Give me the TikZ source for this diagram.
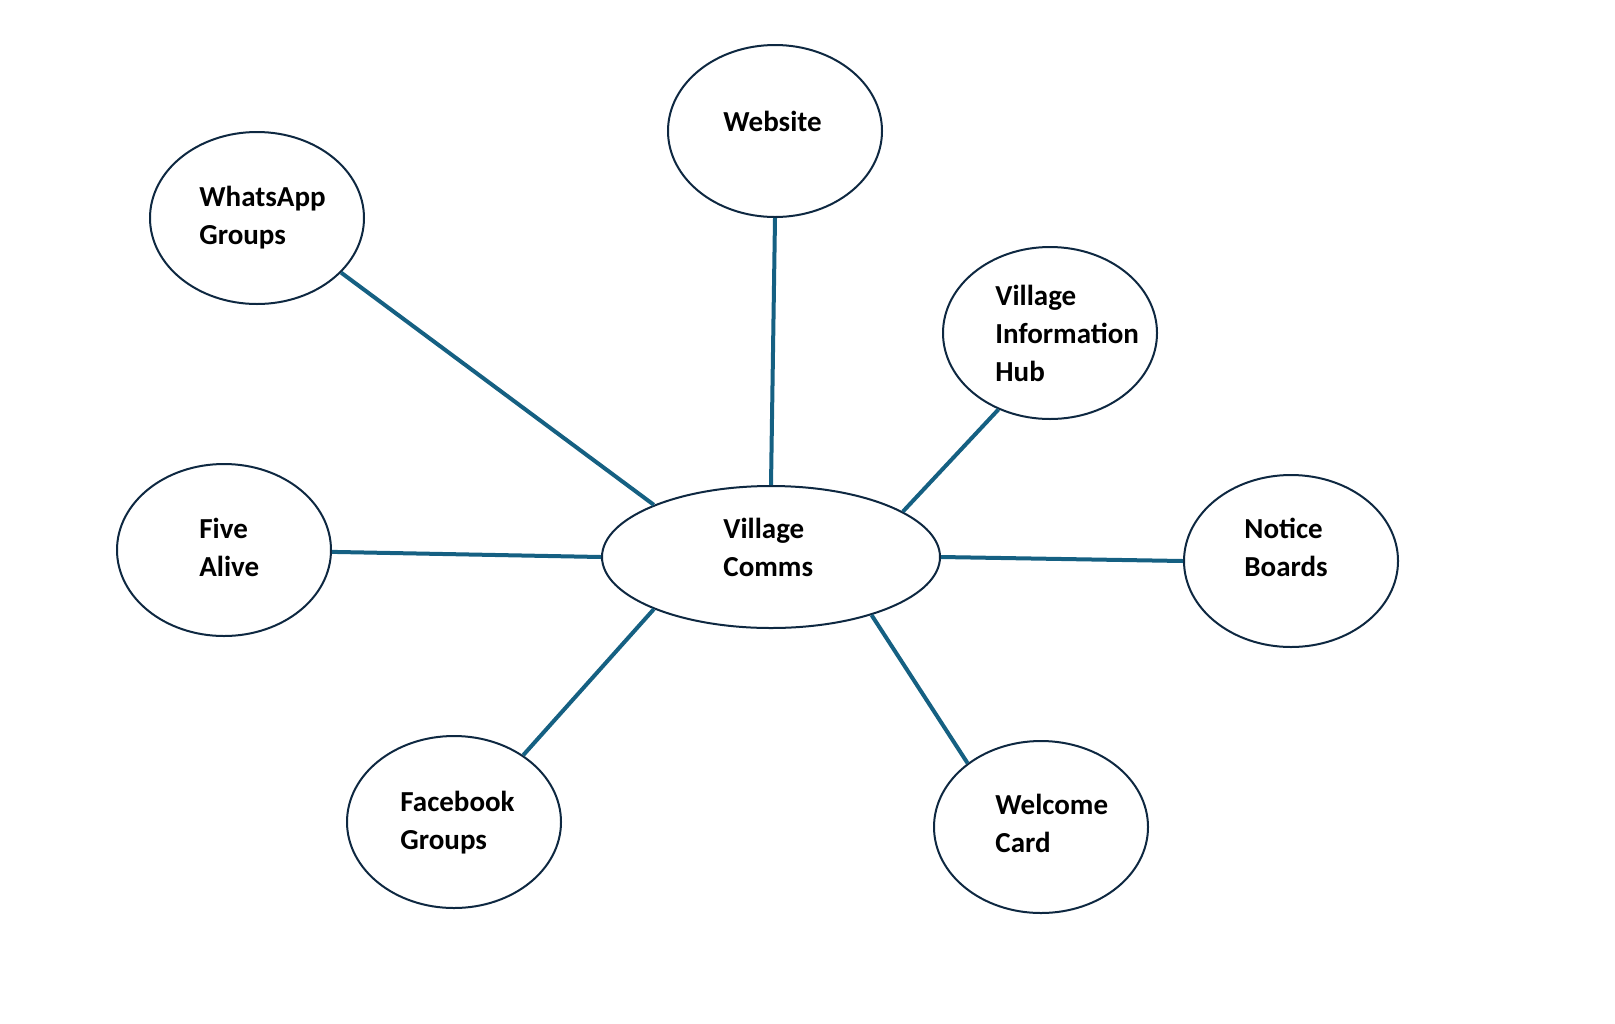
\documentclass[tikz,border=0pt]{standalone}
\usepackage{fontspec}
\setmainfont{Carlito}
\usetikzlibrary{shapes.geometric}
\definecolor{rim}{HTML}{0E2841}
\definecolor{spoke}{HTML}{156082}
\begin{document}
\begin{tikzpicture}[x=0.5pt,y=-0.5pt,
    bubble/.style={ellipse,draw=rim,line width=1pt,fill=white,inner sep=0pt,
      minimum width=107pt,minimum height=86pt},
    hub/.style={bubble,minimum width=169pt,minimum height=71pt},
    txt/.style={anchor=west,inner sep=0pt,align=left,
      font=\fontsize{14.5}{19}\selectfont\bfseries},
    link/.style={draw=spoke,line width=2pt}]
  \useasboundingbox (0,0) rectangle (1615,1023);

  % Centre and the seven channels
  \node[hub]    (comms)   at (771,557)  {};
  \node[bubble] (web)     at (775,131)  {};
  \node[bubble] (whats)   at (257,218)  {};
  \node[bubble] (info)    at (1050,333) {};
  \node[bubble] (five)    at (224,550)  {};
  \node[bubble] (notice)  at (1291,561) {};
  \node[bubble] (face)    at (454,822)  {};
  \node[bubble] (welcome) at (1041,827) {};

  % Labels, left aligned inside
  \node[txt] (comms-t)   at (723,547)  {Village\\Comms};
  \node[txt] (web-t)     at (723,121)  {Website};
  \node[txt] (whats-t)   at (199,218)  {WhatsApp\\Groups};
  \node[txt] (info-t)    at (995,333)  {Village\\Information\\Hub};
  \node[txt] (five-t)    at (199,547)  {Five\\Alive};
  \node[txt] (notice-t)  at (1244,547) {Notice\\Boards};
  \node[txt] (face-t)    at (400,823)  {Facebook\\Groups};
  \node[txt] (welcome-t) at (995,823)  {Welcome\\Card};

  % Spokes
  \draw[link] (whats.-33)    -- (comms.156);
  \draw[link] (web.-90)      -- (comms.90);
  \draw[link] (info.-124)    -- (comms.19);
  \draw[link] (five.-1)      -- (comms.180);
  \draw[link] (notice.180)   -- (comms.0);
  \draw[link] (face.44)      -- (comms.-156);
  \draw[link] (welcome.139)  -- (comms.-30);
\end{tikzpicture}
\end{document}
